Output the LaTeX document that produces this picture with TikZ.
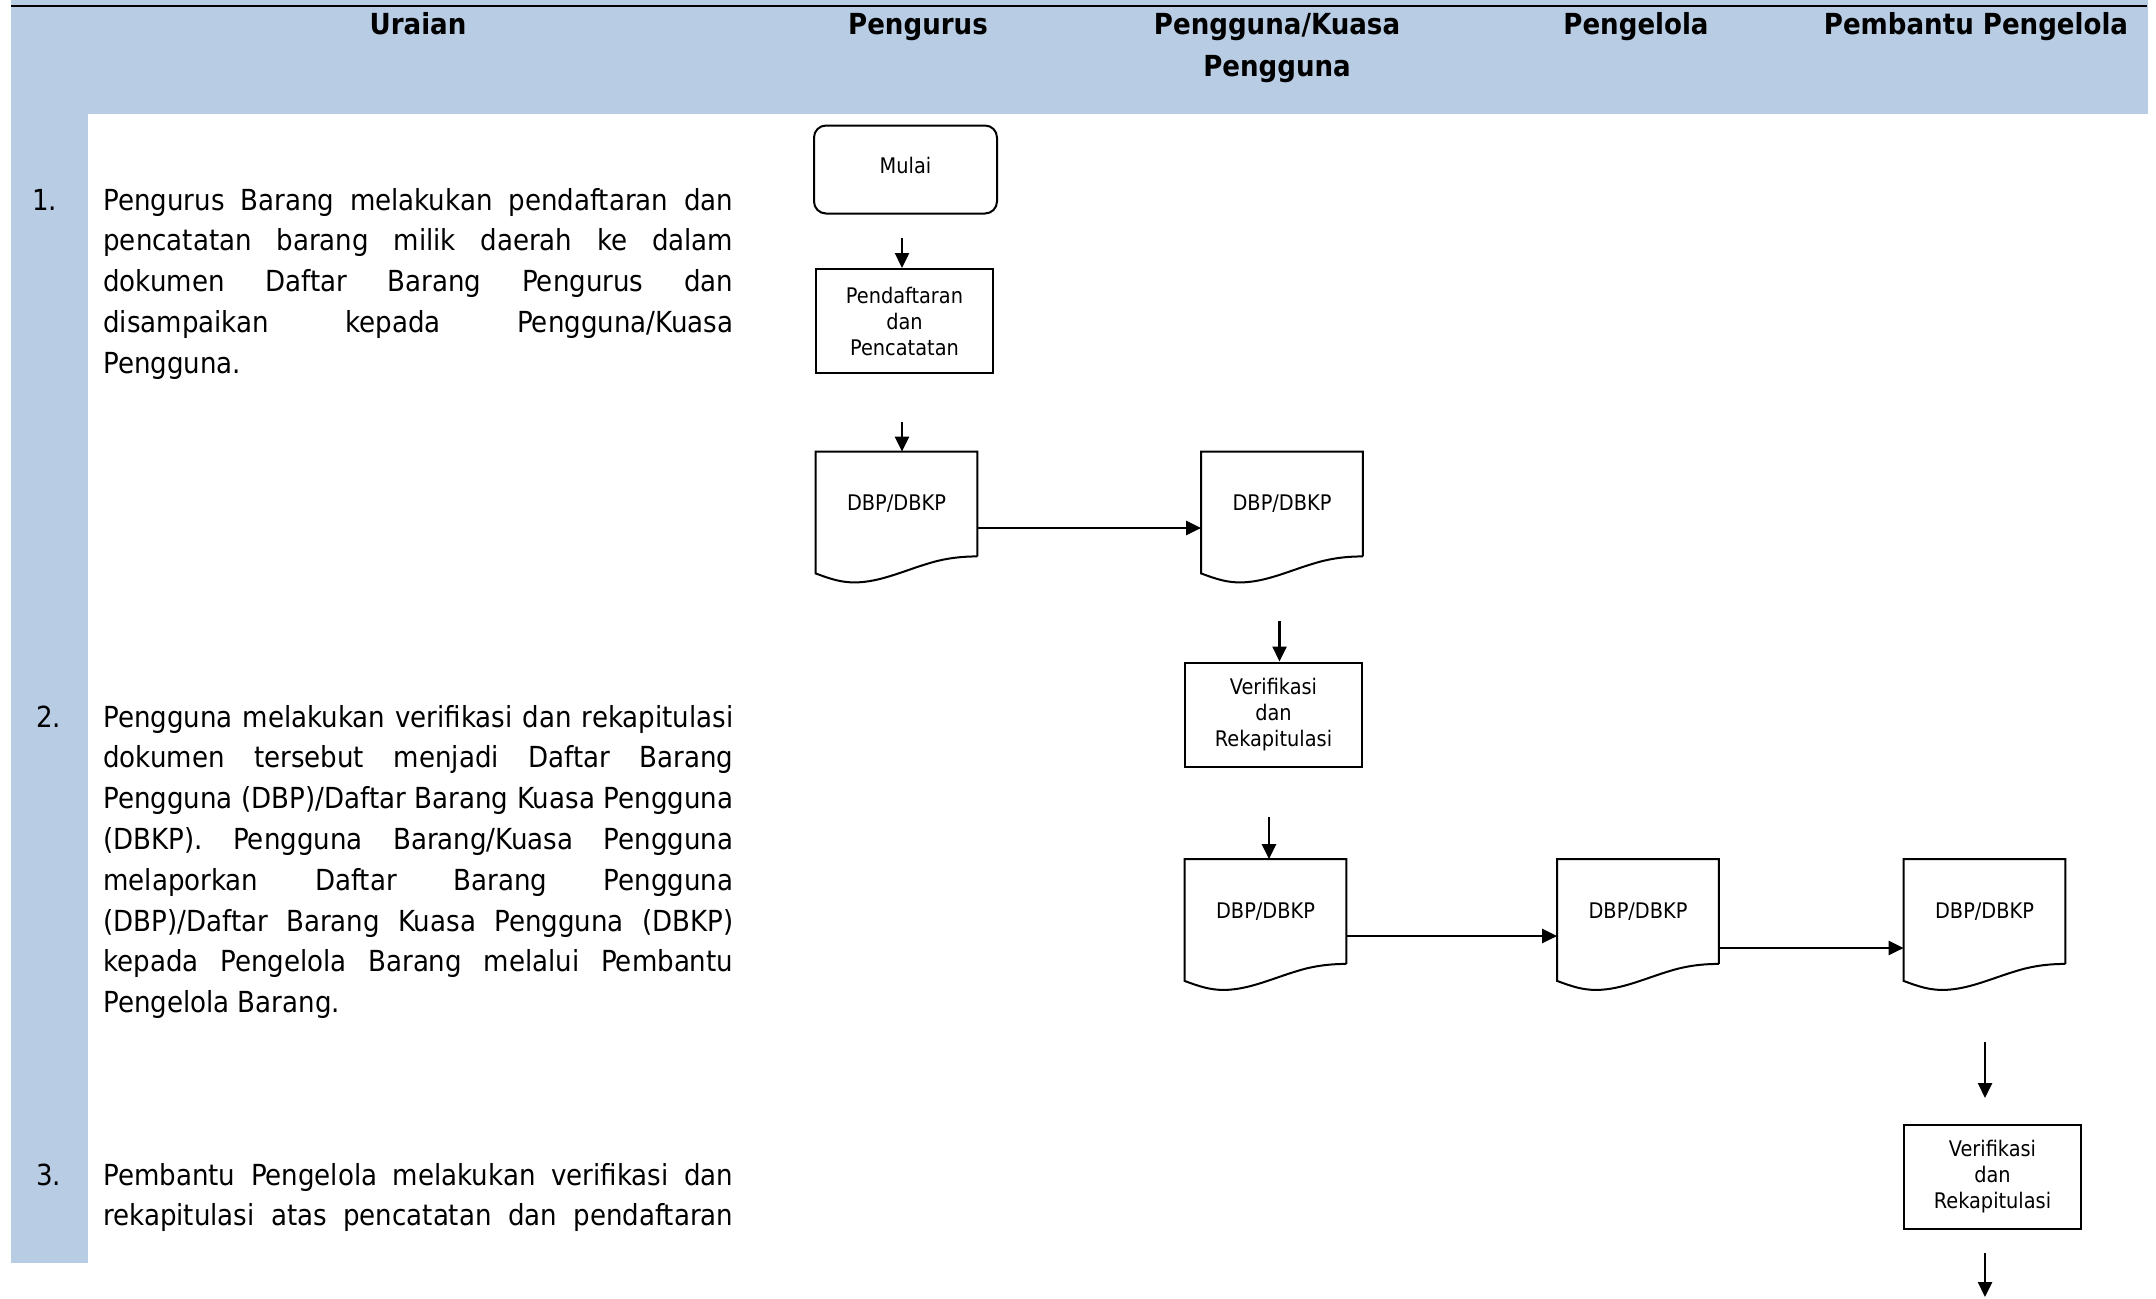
\documentclass[tikz,border=0pt]{standalone}
\usepackage{fontspec}
\setmainfont{DejaVu Sans Condensed}
\usetikzlibrary{arrows.meta}
\definecolor{laneblue}{HTML}{B8CCE4}

\tikzset{
  boxline/.style={draw=black, line width=1pt},
  flow/.style={line width=1.2pt, -{Triangle[length=7.5pt,width=7pt]}},
  headtext/.style={inner sep=0pt, anchor=base, font=\fontsize{14.5}{20.75}\selectfont\bfseries},
  bodytext/.style={inner sep=0pt, anchor=base west, font=\fontsize{14.5}{20.4}\selectfont},
  smalltext/.style={font=\fontsize{10.75}{13}\selectfont},
  startbox/.style={boxline, smalltext, rounded corners=6pt, minimum width=91.5pt, minimum height=44pt, inner sep=0pt},
  procbox/.style={boxline, smalltext, align=center, minimum width=88.5pt, minimum height=52pt, inner sep=0pt},
  docbox/.style={smalltext, minimum width=80.5pt, minimum height=52pt, inner sep=0pt},
}

% outline of a document symbol around a docbox node: straight top and sides, wavy bottom
\newcommand\docoutline[1]{%
  \draw[boxline] (#1.south east) -- (#1.north east) -- (#1.north west)
    -- ([yshift=-8.5pt]#1.south west)
    .. controls ([xshift=8pt,yshift=-11.5pt]#1.south west) and ([xshift=13pt,yshift=-13pt]#1.south west)
    .. ([xshift=19.5pt,yshift=-13pt]#1.south west)
    .. controls ([xshift=32pt,yshift=-13pt]#1.south west) and ([xshift=44.5pt,yshift=-7pt]#1.south west)
    .. ([xshift=56.5pt,yshift=-3.5pt]#1.south west)
    .. controls ([xshift=64.5pt,yshift=-1pt]#1.south west) and ([xshift=72.5pt]#1.south west)
    .. (#1.south east);%
}
% one justified line of the description column
\newcommand\jline[1]{\makebox[\linewidth][s]{#1}\\}

\begin{document}
\begin{tikzpicture}[x=0.5pt, y=-0.5pt]
  \useasboundingbox (0,0) rectangle (2156,1298);
  \fill[white] (0,0) rectangle (2156,1298);

  % header band and description column
  \fill[laneblue] (11,0) rectangle (2148,114);
  \fill[laneblue] (11,114) rectangle (88,1263);
  \draw[line width=1.2pt] (11,6) -- (2147,6);

  % column titles
  \node[headtext] (hUraian) at (418,34.5) {Uraian};
  \node[headtext] (hPengurus) at (918,34.5) {Pengurus};
  \node[headtext] (hPengguna) at (1277,34.5) {Pengguna/Kuasa};
  \node[headtext] (hPenggunaB) at (1277,76) {Pengguna};
  \node[headtext] (hPengelola) at (1636,34.5) {Pengelola};
  \node[headtext] (hPembantu) at (1976,34.5) {Pembantu Pengelola};

  % step descriptions
  \node[bodytext] (n1) at (32,210) {1.};
  \node[bodytext] (t1) at (103,210) {\parbox[t]{315pt}{%
    \jline{Pengurus Barang melakukan pendaftaran dan}
    \jline{pencatatan barang milik daerah ke dalam}
    \jline{dokumen Daftar Barang Pengurus dan}
    \jline{disampaikan kepada Pengguna/Kuasa}
    Pengguna.}};

  \node[bodytext] (n2) at (36,727) {2.};
  \node[bodytext] (t2) at (103,727) {\parbox[t]{315pt}{%
    \jline{Pengguna melakukan verifikasi dan rekapitulasi}
    \jline{dokumen tersebut menjadi Daftar Barang}
    \jline{Pengguna (DBP)/Daftar Barang Kuasa Pengguna}
    \jline{(DBKP). Pengguna Barang/Kuasa Pengguna}
    \jline{melaporkan Daftar Barang Pengguna}
    \jline{(DBP)/Daftar Barang Kuasa Pengguna (DBKP)}
    \jline{kepada Pengelola Barang melalui Pembantu}
    Pengelola Barang.}};

  \node[bodytext] (n3) at (36,1185) {3.};
  \node[bodytext] (t3) at (103,1185) {\parbox[t]{315pt}{%
    \jline{Pembantu Pengelola melakukan verifikasi dan}
    \makebox[\linewidth][s]{rekapitulasi atas pencatatan dan pendaftaran}}};

  % flow symbols
  \node[startbox] (mulai) at (905.5,169.5) {\raisebox{4pt}{Mulai}};
  \node[procbox] (p1) at (904.5,321) {Pendaftaran\\dan\\Pencatatan};
  \node[docbox] (d1) at (896.5,504) {DBP/DBKP};
  \node[docbox] (d2) at (1282,504) {DBP/DBKP};
  \node[procbox] (v1) at (1273.5,714.5) {Verifikasi\\dan\\Rekapitulasi};
  \node[docbox] (d3) at (1265.5,911.5) {DBP/DBKP};
  \node[docbox] (d4) at (1638,911.5) {DBP/DBKP};
  \node[docbox] (d5) at (1984.5,911.5) {DBP/DBKP};
  \node[procbox] (v2) at (1992.5,1177) {Verifikasi\\dan\\Rekapitulasi};

  \docoutline{d1}
  \docoutline{d2}
  \docoutline{d3}
  \docoutline{d4}
  \docoutline{d5}

  % connectors
  \coordinate (s1) at (902,238);
  \draw[flow] (s1) -- (s1 |- p1.north);
  \coordinate (s2) at (902,422);
  \draw[flow] (s2) -- (s2 |- d1.north);
  \coordinate (h1) at ([yshift=-12pt]d1.east);
  \draw[flow] (h1) -- (h1 -| d2.west);
  \coordinate (s3) at (1279.5,621);
  \draw[flow] (s3) -- (s3 |- v1.north);
  \coordinate (s4) at (1269,817);
  \draw[flow] (s4) -- (s4 |- d3.north);
  \coordinate (h2) at ([yshift=-12.25pt]d3.east);
  \draw[flow] (h2) -- (h2 -| d4.west);
  \coordinate (h3) at ([yshift=-18.25pt]d4.east);
  \draw[flow] (h3) -- (h3 -| d5.west);
  \coordinate (s5) at (1985,1042);
  \coordinate (e5) at ([yshift=13pt]v2.north);
  \draw[flow] (s5) -- (s5 |- e5);
  \coordinate (s6) at (1985,1253);
  \coordinate (e6) at (1985,1297);
  \draw[flow] (s6) -- (e6);
\end{tikzpicture}
\end{document}
